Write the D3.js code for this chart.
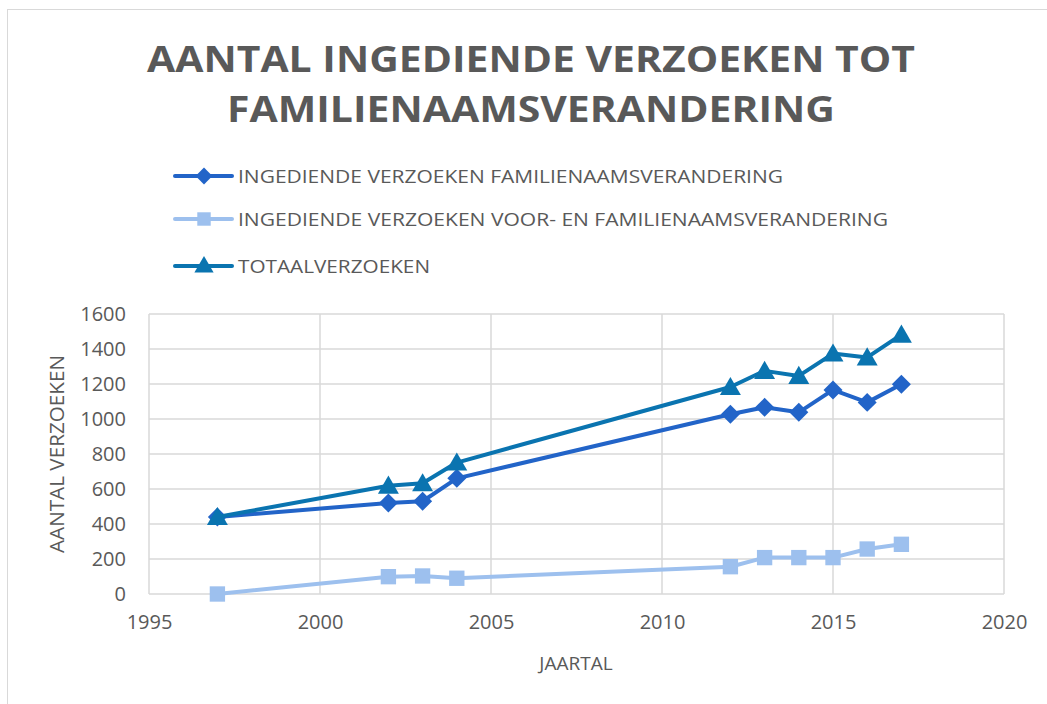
<!DOCTYPE html>
<html><head><meta charset="utf-8">
<script src="https://cdn.jsdelivr.net/npm/d3@7"></script>
<style>body{margin:0;background:#fff}svg{display:block}text{font-family:"Open Sans","Liberation Sans",sans-serif;fill:#595959}</style>
</head><body>
<script>
const years = [1997, 2002, 2003, 2004, 2012, 2013, 2014, 2015, 2016, 2017];
const familienaam = [440, 520, 530, 661, 1027, 1067, 1038, 1166, 1095, 1198];
const voorEnFamilienaam = [0, 99, 103, 90, 156, 208, 208, 208, 257, 284];
const totaal = [440, 619, 633, 751, 1183, 1275, 1246, 1374, 1352, 1482];
const seriesNames = ["INGEDIENDE VERZOEKEN FAMILIENAAMSVERANDERING", "INGEDIENDE VERZOEKEN VOOR- EN FAMILIENAAMSVERANDERING", "TOTAALVERZOEKEN"];
const xTicks = [1995, 2000, 2005, 2010, 2015, 2020];
const yTicks = [0, 200, 400, 600, 800, 1000, 1200, 1400, 1600];
const titleLines = ["AANTAL INGEDIENDE VERZOEKEN TOT", "FAMILIENAAMSVERANDERING"];

const W = 1047, H = 704;
const svg = d3.select("body").append("svg").attr("width", W).attr("height", H);
svg.append("rect").attr("x", 7.5).attr("y", 9.5).attr("width", 1060).attr("height", 720)
  .attr("fill", "none").attr("stroke", "#d9d9d9").attr("stroke-width", 1);

const x = d3.scaleLinear().domain([1995, 2020]).range([149, 1004]);
const y = d3.scaleLinear().domain([0, 1600]).range([594, 314]);

// title
const titleSpec = [{y: 72, x1: 147, x2: 915}, {y: 122, x1: 227, x2: 835}];
titleLines.forEach((t, i) => {
  svg.append("text").attr("x", titleSpec[i].x1).attr("y", titleSpec[i].y)
    .attr("font-size", 36).attr("font-weight", "bold").attr("fill", "#5f5f5f")
    .attr("textLength", titleSpec[i].x2 - titleSpec[i].x1).attr("lengthAdjust", "spacingAndGlyphs")
    .text(t);
});

// grid
const g = svg.append("g");
g.selectAll(".hg").data(yTicks).join("line")
  .attr("x1", x(1995)).attr("x2", x(2020)).attr("y1", d => y(d)).attr("y2", d => y(d))
  .attr("stroke", "#d9d9d9").attr("stroke-width", 1.5);
g.selectAll(".vg").data(xTicks).join("line")
  .attr("y1", y(0)).attr("y2", y(1600)).attr("x1", d => x(d)).attr("x2", d => x(d))
  .attr("stroke", "#d9d9d9").attr("stroke-width", 1.5);

// axes (labels only)
const yAxis = svg.append("g").attr("transform", `translate(${x(1995)},0)`)
  .call(d3.axisLeft(y).tickValues(yTicks).tickSize(0).tickPadding(23).tickFormat(d3.format("d")));
yAxis.select(".domain").remove();
yAxis.selectAll("text").attr("font-size", 20).attr("fill", "#595959").style("font-family", "'Open Sans',sans-serif");
const xAxis = svg.append("g").attr("transform", `translate(0,${y(0)})`)
  .call(d3.axisBottom(x).tickValues(xTicks).tickSize(0).tickPadding(21).tickFormat(d3.format("d")));
xAxis.select(".domain").remove();
xAxis.selectAll("text").attr("font-size", 20).attr("fill", "#595959").style("font-family", "'Open Sans',sans-serif");

svg.append("text").attr("x", 576).attr("y", 670).attr("text-anchor", "middle").attr("font-size", 19).text("JAARTAL");
svg.append("text").attr("transform", `translate(64,${(y(0)+y(1600))/2}) rotate(-90)`)
  .attr("text-anchor", "middle").attr("font-size", 20)
  .attr("textLength", 198).attr("lengthAdjust", "spacingAndGlyphs").text("AANTAL VERZOEKEN");

const colors = ["#2264C8", "#9DC0EE", "#0A74B0"];
const data = [familienaam, voorEnFamilienaam, totaal];
const symbols = [
  d3.symbol().type(d3.symbolDiamond2).size(230),
  d3.symbol().type(d3.symbolSquare2).size(300),
  d3.symbol().type(d3.symbolTriangle).size(190)
];
const line = d3.line().x(d => x(d[0])).y(d => y(d[1]));
const order = [1, 0, 2];
order.forEach(i => {
  const pts = years.map((yr, k) => [yr, data[i][k]]);
  svg.append("path").datum(pts).attr("d", line).attr("fill", "none")
    .attr("stroke", colors[i]).attr("stroke-width", 4).attr("stroke-linejoin", "round").attr("stroke-linecap", "round");
  svg.selectAll(null).data(pts).join("path")
    .attr("transform", d => `translate(${x(d[0])},${y(d[1]) + (i === 2 ? 2 : 0)})`)
    .attr("d", symbols[i]).attr("fill", colors[i]);
});

// legend
const legY = [176, 219, 266];
const legEnd = [783, 888, 430];
seriesNames.forEach((name, i) => {
  svg.append("line").attr("x1", 175).attr("x2", 232).attr("y1", legY[i]).attr("y2", legY[i])
    .attr("stroke", colors[i]).attr("stroke-width", 4).attr("stroke-linecap", "round");
  svg.append("path").attr("transform", `translate(204,${legY[i] + (i === 2 ? 1 : 0)})`)
    .attr("d", d3.symbol().type([d3.symbolDiamond2, d3.symbolSquare2, d3.symbolTriangle][i]).size([180, 230, 160][i])())
    .attr("fill", colors[i]);
  svg.append("text").attr("x", 238).attr("y", legY[i] + 7).attr("font-size", 19)
    .attr("textLength", legEnd[i] - 238).attr("lengthAdjust", "spacingAndGlyphs").text(name);
});
</script>
</body></html>
